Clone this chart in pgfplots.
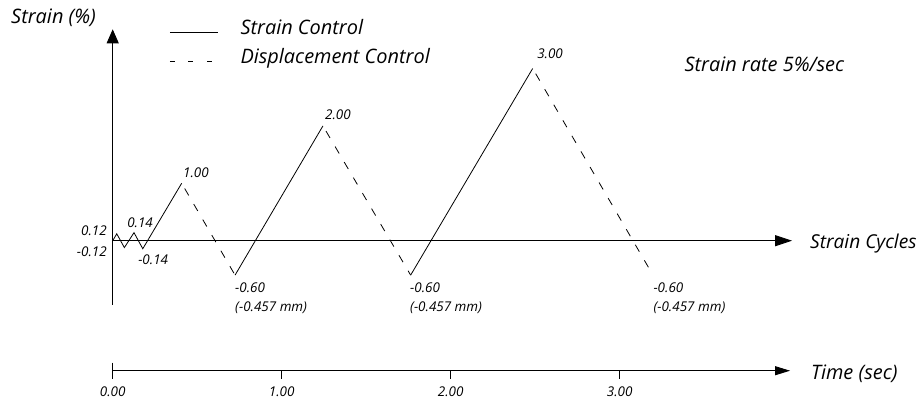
\documentclass[border=0pt]{standalone}
\usepackage{fontspec}
\setmainfont{Open Sans}
\usepackage{pgfplots}
\pgfplotsset{compat=1.18}
\usetikzlibrary{arrows.meta}

\begin{document}
\begin{tikzpicture}
\begin{axis}[
	hide axis,
	scale only axis,
	width=923bp, height=404bp,
	xmin=-0.6669, xmax=4.7947,
	ymin=-2.845, ymax=4.193,
	clip=false,
	every node/.style={font=\itshape, inner sep=0pt},
]
% strain control (solid)
\addplot[black, line width=0.8bp] coordinates {
	(0,0) (0.024,0.12) (0.069,-0.12) (0.126,0.14) (0.178,-0.14) (0.408,1.00)
};
\addplot[black, line width=0.8bp] coordinates {(0.724,-0.60) (1.244,2.00)};
\addplot[black, line width=0.8bp] coordinates {(1.763,-0.60) (2.485,3.00)};
% displacement control (dashed)
\addplot[black, line width=0.8bp, dash pattern=on 8bp off 10bp, dash phase=12bp]
	coordinates {(0.408,1.00) (0.724,-0.60)};
\addplot[black, line width=0.8bp, dash pattern=on 8bp off 10bp, dash phase=12bp]
	coordinates {(1.244,2.00) (1.763,-0.60)};
\addplot[black, line width=0.8bp, dash pattern=on 8bp off 10bp, dash phase=12bp]
	coordinates {(2.485,3.00) (3.197,-0.60)};

% axes with arrows
\draw[line width=0.9bp, -{Triangle[length=14bp,width=12bp]}] (axis cs:0,-1.12) -- (axis cs:0,3.683);
\draw[line width=0.9bp, -{Triangle[length=17bp,width=11bp]}] (axis cs:0,0) -- (axis cs:4.020,0);
\draw[line width=0.9bp, -{Triangle[length=15bp,width=9bp]}] (axis cs:0,-2.265) -- (axis cs:4.008,-2.265);
\draw[line width=0.8bp] (axis cs:0,-2.125) -- (axis cs:0,-2.405);
\draw[line width=0.8bp] (axis cs:1,-2.265) -- (axis cs:1,-2.405);
\draw[line width=0.8bp] (axis cs:2,-2.265) -- (axis cs:2,-2.405);
\draw[line width=0.8bp] (axis cs:3,-2.265) -- (axis cs:3,-2.405);
\node[anchor=base, font=\itshape\fontsize{13.5}{15}\selectfont] at (axis cs:0,-2.718) {0.00};
\node[anchor=base, font=\itshape\fontsize{13.5}{15}\selectfont] at (axis cs:1,-2.718) {1.00};
\node[anchor=base, font=\itshape\fontsize{13.5}{15}\selectfont] at (axis cs:2,-2.718) {2.00};
\node[anchor=base, font=\itshape\fontsize{13.5}{15}\selectfont] at (axis cs:3,-2.718) {3.00};

% axis titles
\node[font=\itshape\fontsize{20}{24}\selectfont] at (axis cs:-0.350,3.880) {Strain (\%)};
\node[anchor=base west, font=\itshape\fontsize{19.2}{24}\selectfont] at (axis cs:4.106,-0.132) {Strain Cycles};
\node[anchor=base west, font=\itshape\fontsize{20}{24}\selectfont] at (axis cs:4.112,-2.415) {Time (sec)};
\node[anchor=base west, font=\itshape\fontsize{20}{24}\selectfont] at (axis cs:3.363,2.944) {Strain rate 5\%/sec};

% legend
\draw[line width=0.8bp] (axis cs:0.339,3.636) -- (axis cs:0.623,3.636);
\draw[line width=0.8bp] (axis cs:0.339,3.118) -- (axis cs:0.369,3.118);
\draw[line width=0.8bp] (axis cs:0.446,3.118) -- (axis cs:0.476,3.118);
\draw[line width=0.8bp] (axis cs:0.558,3.118) -- (axis cs:0.588,3.118);
\node[anchor=base west, font=\itshape\fontsize{20}{24}\selectfont] at (axis cs:0.7355,3.596) {Strain Control};
\node[anchor=base west, font=\itshape\fontsize{20}{24}\selectfont] at (axis cs:0.7355,3.091) {Displacement Control};

% peak labels
\begin{scope}[every node/.style={font=\itshape\fontsize{13.5}{15}\selectfont, inner sep=0pt}]
\node[anchor=base east] at (axis cs:-0.034,0.099) {0.12};
\node[anchor=base east] at (axis cs:-0.034,-0.279) {-0.12};
\node[anchor=base west] at (axis cs:0.085,0.233) {0.14};
\node[anchor=base west] at (axis cs:0.150,-0.423) {-0.14};
\node[anchor=base west] at (axis cs:0.416,1.104) {1.00};
\node[anchor=base west] at (axis cs:1.256,2.103) {2.00};
\node[anchor=base west] at (axis cs:2.511,3.178) {3.00};
\node[anchor=base west] at (axis cs:0.7237,-0.899) {-0.60};
\node[anchor=base west] at (axis cs:0.7237,-1.237) {(-0.457 mm)};
\node[anchor=base west] at (axis cs:1.759,-0.899) {-0.60};
\node[anchor=base west] at (axis cs:1.759,-1.237) {(-0.457 mm)};
\node[anchor=base west] at (axis cs:3.199,-0.899) {-0.60};
\node[anchor=base west] at (axis cs:3.199,-1.237) {(-0.457 mm)};
\end{scope}
\end{axis}
\pgfresetboundingbox
\useasboundingbox (current axis.south west) rectangle (current axis.north east);
\end{tikzpicture}
\end{document}
